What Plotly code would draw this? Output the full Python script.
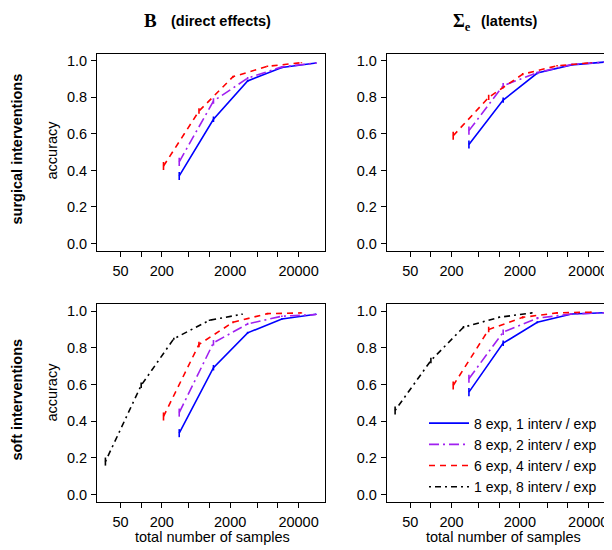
import math
import plotly.graph_objects as go

# ---------------- data ----------------
samples_8x1 = [360, 1140, 3600, 11400, 36000]
samples_8x2 = [360, 1140, 3600, 11400, 36000]
samples_6x4 = [212, 700, 2200, 7000, 22000]
samples_1x8 = [30, 100, 300, 1000, 3000]

err_half = [0.022, 0.015, 0.006, 0.004, 0.003]

# B (direct effects), surgical interventions
B_surg_8x1 = [0.37, 0.68, 0.89, 0.964, 0.988]
B_surg_8x2 = [0.447, 0.78, 0.905, 0.967, 0.988]
B_surg_6x4 = [0.424, 0.725, 0.913, 0.97, 0.99]
# Sigma_e (latents), surgical interventions
S_surg_8x1 = [0.542, 0.785, 0.933, 0.978, 0.994]
S_surg_8x2 = [0.618, 0.864, 0.936, 0.98, 0.993]
S_surg_6x4 = [0.59, 0.80, 0.927, 0.973, 0.99]
# B (direct effects), soft interventions
B_soft_8x1 = [0.335, 0.692, 0.882, 0.958, 0.984]
B_soft_8x2 = [0.447, 0.828, 0.931, 0.973, 0.982]
B_soft_6x4 = [0.426, 0.819, 0.94, 0.987, 0.991]
B_soft_1x8 = [0.18, 0.596, 0.85, 0.951, 0.984]
# Sigma_e (latents), soft interventions
S_soft_8x1 = [0.559, 0.826, 0.94, 0.985, 0.992]
S_soft_8x2 = [0.632, 0.886, 0.962, 0.985, 0.992]
S_soft_6x4 = [0.595, 0.90, 0.967, 0.991, 0.995]
S_soft_1x8 = [0.459, 0.731, 0.913, 0.967, 0.991]

series_names = ["8 exp, 1 interv / exp", "8 exp, 2 interv / exp",
                "6 exp, 4 interv / exp", "1 exp, 8 interv / exp"]
x_tickvals = [50, 200, 2000, 20000]
x_ticktext = ["50", "200", "2000", "20000"]
x_minor_tickvals = [100, 500, 1000, 5000, 10000]
y_tickvals = [0.0, 0.2, 0.4, 0.6, 0.8, 1.0]

# ---------------- styles ----------------
W, H = 612, 550
OFF = 8  # page body margin of the html page
FONT = "Liberation Sans, Arial, sans-serif"
SERIF = "Liberation Serif, Times New Roman, serif"
styles = [
    dict(color="#0000FF", dash="solid"),
    dict(color="#A020F0", dash="10px,4px,2px,4px"),
    dict(color="#FF0000", dash="6px,5px"),
    dict(color="#000000", dash="2px,4px,6px,4px"),
]
xs = [samples_8x1, samples_8x2, samples_6x4, samples_1x8]

panels = [
    ("x", "y", [B_surg_8x1, B_surg_8x2, B_surg_6x4, None]),
    ("x2", "y2", [S_surg_8x1, S_surg_8x2, S_surg_6x4, None]),
    ("x3", "y3", [B_soft_8x1, B_soft_8x2, B_soft_6x4, B_soft_1x8]),
    ("x4", "y4", [S_soft_8x1, S_soft_8x2, S_soft_6x4, S_soft_1x8]),
]

fig = go.Figure()
for pi, (xa, ya, ser) in enumerate(panels):
    for si, yv in enumerate(ser):
        if yv is None:
            continue
        st = styles[si]
        fig.add_trace(go.Scatter(
            x=xs[si], y=yv, xaxis=xa, yaxis=ya, mode="lines",
            name=series_names[si], showlegend=(pi == 3),
            line=dict(color=st["color"], dash=st["dash"], width=1.6),
            error_y=dict(type="data", array=err_half, visible=True,
                         color=st["color"], thickness=1.6, width=0),
        ))

# ---------------- layout ----------------
def px_x(p):
    return (p - OFF) / W

def px_y(p):
    return 1 - (p - OFF) / H

decade = 68.4
lo = math.log10(22.6)
left_dom = [97, 325]
right_dom = [386.7, 614.7]
top_dom = [52.7, 250.7]
bot_dom = [304, 502.7]

def xaxis(dom, anchor):
    span = (dom[1] - dom[0]) / decade
    return dict(type="log", domain=[px_x(dom[0]), px_x(dom[1])],
                range=[lo, lo + span], anchor=anchor,
                tickvals=x_tickvals, ticktext=x_ticktext,
                minor=dict(tickvals=x_minor_tickvals, ticks="outside",
                           ticklen=5, tickcolor="black", tickwidth=1,
                           showgrid=False),
                showline=True, mirror=True, linecolor="black", linewidth=1,
                ticks="outside", ticklen=5, tickcolor="black", tickwidth=1,
                showgrid=False, zeroline=False,
                tickfont=dict(family=FONT, size=14.5, color="black"),
                ticklabelstandoff=2)

def yaxis(dom, anchor):
    return dict(domain=[px_y(dom[1]), px_y(dom[0])], range=[-0.04, 1.04],
                anchor=anchor, tickvals=y_tickvals, tickformat=".1f",
                showline=True, mirror=True, linecolor="black", linewidth=1,
                ticks="outside", ticklen=5, tickcolor="black", tickwidth=1,
                showgrid=False, zeroline=False,
                tickfont=dict(family=FONT, size=14.5, color="black"),
                ticklabelstandoff=1)

fig.update_layout(
    width=W, height=H, margin=dict(l=0, r=0, t=0, b=0),
    plot_bgcolor="white", paper_bgcolor="white",
    xaxis=xaxis(left_dom, "y"), yaxis=yaxis(top_dom, "x"),
    xaxis2=xaxis(right_dom, "y2"), yaxis2=yaxis(top_dom, "x2"),
    xaxis3=xaxis(left_dom, "y3"), yaxis3=yaxis(bot_dom, "x3"),
    xaxis4=xaxis(right_dom, "y4"), yaxis4=yaxis(bot_dom, "x4"),
    legend=dict(x=px_x(424), y=px_y(408), xanchor="left", yanchor="top",
                bgcolor="rgba(0,0,0,0)", itemwidth=40,
                font=dict(family=FONT, size=14, color="black"),
                traceorder="normal"),
    showlegend=True,
)

def ann(text, x, y, size=14.5, family=FONT, angle=0, xanchor="center"):
    fig.add_annotation(text=text, x=px_x(x), y=px_y(y), xref="paper",
                       yref="paper", showarrow=False, textangle=angle,
                       xanchor=xanchor, yanchor="middle",
                       font=dict(family=family, size=size, color="black"))

# column titles
ann("<b>B</b>", 150, 20, size=19, family=SERIF)
ann("<b>(direct effects)</b>", 169, 20, xanchor="left")
ann("<b>Σ</b><sub><b>e</b></sub>", 462, 22, size=18, family=SERIF)
ann("<b>(latents)</b>", 479, 20, xanchor="left")
# row labels
ann("<b>surgical interventions</b>", 17, 149, angle=-90)
ann("<b>soft interventions</b>", 17, 400, angle=-90)
# y titles
ann("accuracy", 52, 150, angle=-90)
ann("accuracy", 52, 393, angle=-90)
# x titles
ann("total number of samples", 212, 538)
ann("total number of samples", 503, 538)

fig.write_html("out.html")
